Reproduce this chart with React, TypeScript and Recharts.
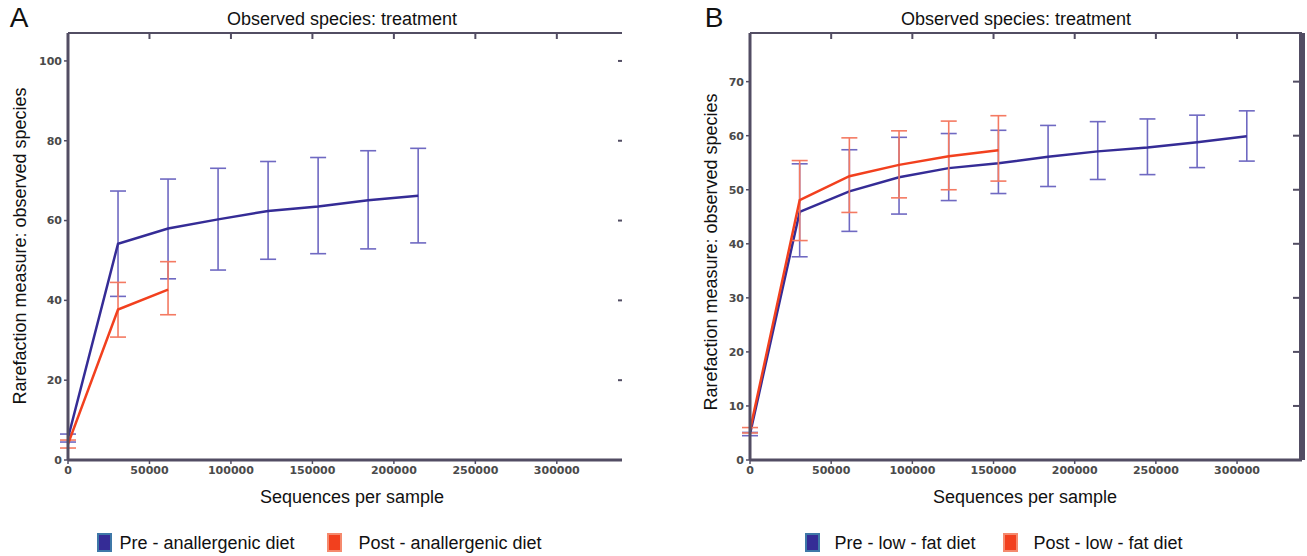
import React from 'react';
import { ComposedChart, Line, XAxis, YAxis, ErrorBar, ReferenceLine } from 'recharts';

const xTicks = [0, 50000, 100000, 150000, 200000, 250000, 300000];
const aYTicks = [0, 20, 40, 60, 80, 100];
const bYTicks = [0, 10, 20, 30, 40, 50, 60, 70];

// panel A: anallergenic diet
const aPreX = [0, 30700, 61400, 92100, 122800, 153500, 184200, 214900];
const aPreY = [5.5, 54.2, 58.0, 60.3, 62.4, 63.5, 65.1, 66.2];
const aPreLow = [4.5, 41.0, 45.4, 47.6, 50.3, 51.7, 52.9, 54.4];
const aPreHigh = [6.5, 67.4, 70.4, 73.1, 74.8, 75.8, 77.5, 78.1];

const aPostX = [0, 30700, 61400];
const aPostY = [4.0, 37.7, 42.7];
const aPostLow = [3.0, 30.8, 36.4];
const aPostHigh = [5.0, 44.5, 49.7];

// panel B: low-fat diet
const bPreX = [0, 30600, 61200, 91800, 122400, 153000, 183600, 214200, 244800, 275400, 306000];
const bPreY = [4.8, 45.9, 49.7, 52.3, 54.0, 54.9, 56.1, 57.1, 57.8, 58.8, 59.9];
const bPreLow = [4.5, 37.6, 42.3, 45.5, 48.0, 49.3, 50.6, 51.9, 52.8, 54.1, 55.3];
const bPreHigh = [5.1, 54.8, 57.4, 59.7, 60.4, 61.0, 61.9, 62.6, 63.1, 63.8, 64.6];

const bPostX = [0, 30600, 61200, 91800, 122400, 153000];
const bPostY = [5.5, 48.1, 52.5, 54.6, 56.2, 57.3];
const bPostLow = [5.0, 40.6, 45.8, 48.5, 50.0, 51.6];
const bPostHigh = [6.0, 55.4, 59.6, 60.9, 62.7, 63.7];

const BLUE = '#352c96';
const BLUE_ERR = '#6f69c2';
const RED = '#f2401e';
const RED_ERR = '#f47a62';
const AXIS = '#524d63';
const X_MAX = 340000;

function build(xs: number[], ys: number[], lo: number[], hi: number[]) {
  return xs.map((x, i) => ({ x, y: ys[i], err: [ys[i] - lo[i], hi[i] - ys[i]] }));
}

const tickStyle = { fontFamily: 'DejaVu Sans', fontSize: 11, fontWeight: 700, fill: '#4a4a4a' };
const textFont = '"Liberation Sans", Arial, sans-serif';
const noLabel = () => <g />;

interface PanelProps {
  left: number;
  width: number;
  marginLeft: number;
  marginRight: number;
  yMax: number;
  yTicks: number[];
  pre: { x: number; y: number; err: number[] }[];
  post: { x: number; y: number; err: number[] }[];
  rightBorder: boolean;
}

function Panel({ left, width, marginLeft, marginRight, yMax, yTicks, pre, post, rightBorder }: PanelProps) {
  return (
    <div style={{ position: 'absolute', left, top: 0 }}>
      <ComposedChart
        width={width}
        height={556}
        margin={{ top: 33, right: marginRight, bottom: 66, left: marginLeft }}
      >
        <XAxis
          xAxisId="b"
          type="number"
          dataKey="x"
          domain={[0, X_MAX]}
          ticks={xTicks}
          allowDataOverflow
          height={30}
          axisLine={{ stroke: AXIS, strokeWidth: 3 }}
          tickLine={{ stroke: AXIS, strokeWidth: 1.5 }}
          tickSize={4}
          tick={tickStyle}
          interval={0}
        />
        <XAxis
          xAxisId="t"
          orientation="top"
          type="number"
          dataKey="x"
          domain={[0, X_MAX]}
          ticks={xTicks}
          allowDataOverflow
          height={1}
          mirror
          tick={noLabel}
          interval={0}
          axisLine={{ stroke: AXIS, strokeWidth: 2 }}
          tickLine={{ stroke: AXIS, strokeWidth: 2 }}
          tickSize={6}
        />
        <YAxis
          yAxisId="l"
          type="number"
          domain={[0, yMax]}
          ticks={yTicks}
          allowDataOverflow
          width={40}
          axisLine={{ stroke: AXIS, strokeWidth: 3 }}
          tickLine={{ stroke: AXIS, strokeWidth: 1.5 }}
          tickSize={4}
          tick={tickStyle}
          interval={0}
        />
        <YAxis
          yAxisId="r"
          orientation="right"
          type="number"
          domain={[0, yMax]}
          ticks={yTicks}
          allowDataOverflow
          width={1}
          mirror
          tick={noLabel}
          interval={0}
          axisLine={rightBorder ? { stroke: AXIS, strokeWidth: 6 } : false}
          tickLine={{ stroke: AXIS, strokeWidth: 2 }}
          tickSize={rightBorder ? 9 : 4}
        />
        <ReferenceLine xAxisId="b" yAxisId="l" y={yMax} stroke={AXIS} strokeWidth={2} />
        {rightBorder && <ReferenceLine xAxisId="b" yAxisId="l" x={X_MAX} stroke={AXIS} strokeWidth={6} />}
        <Line
          xAxisId="b"
          yAxisId="l"
          data={pre}
          dataKey="y"
          type="linear"
          stroke={BLUE}
          strokeWidth={2.5}
          dot={false}
          isAnimationActive={false}
        >
          <ErrorBar dataKey="err" direction="y" width={8} stroke={BLUE_ERR} strokeWidth={1.6} isAnimationActive={false} />
        </Line>
        <Line
          xAxisId="t"
          yAxisId="r"
          data={post}
          dataKey="y"
          type="linear"
          stroke={RED}
          strokeWidth={2.5}
          dot={false}
          isAnimationActive={false}
        >
          <ErrorBar dataKey="err" direction="y" width={8} stroke={RED_ERR} strokeWidth={1.6} isAnimationActive={false} />
        </Line>
      </ComposedChart>
    </div>
  );
}

function Label({ x, y, size, children, rotate }: { x: number; y: number; size: number; children: React.ReactNode; rotate?: boolean }) {
  return (
    <div
      style={{
        position: 'absolute',
        left: x,
        top: y,
        transform: `translate(-50%, -50%)${rotate ? ' rotate(-90deg)' : ''}`,
        whiteSpace: 'nowrap',
        fontFamily: textFont,
        fontSize: size,
        lineHeight: 1,
        color: '#111',
      }}
    >
      {children}
    </div>
  );
}

function Swatch({ x, fill, border }: { x: number; fill: string; border: string }) {
  return (
    <div
      style={{
        position: 'absolute',
        left: x,
        top: 533,
        width: 11,
        height: 15,
        background: fill,
        border: `2px solid ${border}`,
      }}
    />
  );
}

export default function App() {
  const aPre = build(aPreX, aPreY, aPreLow, aPreHigh);
  const aPost = build(aPostX, aPostY, aPostLow, aPostHigh);
  const bPre = build(bPreX, bPreY, bPreLow, bPreHigh);
  const bPost = build(bPostX, bPostY, bPostLow, bPostHigh);

  return (
    <div style={{ position: 'absolute', left: 0, top: 0, width: 1307, height: 556, background: '#fff', overflow: 'hidden' }}>
      <Panel left={0} width={650} marginLeft={28} marginRight={28} yMax={107} yTicks={aYTicks} pre={aPre} post={aPost} rightBorder={false} />
      <Panel left={660} width={647} marginLeft={50} marginRight={5} yMax={79} yTicks={bYTicks} pre={bPre} post={bPost} rightBorder />

      <Label x={19} y={18} size={28}>A</Label>
      <Label x={714} y={18} size={28}>B</Label>

      <Label x={342} y={19} size={18}>Observed species: treatment</Label>
      <Label x={1016} y={19} size={18}>Observed species: treatment</Label>

      <Label x={352} y={497} size={18}>Sequences per sample</Label>
      <Label x={1025} y={497} size={18}>Sequences per sample</Label>

      <Label x={20} y={246} size={18} rotate>Rarefaction measure: observed species</Label>
      <Label x={711} y={252} size={18} rotate>Rarefaction measure: observed species</Label>

      <Swatch x={97} fill={BLUE} border="#3f78a8" />
      <Label x={207} y={543} size={18}>Pre - anallergenic diet</Label>
      <Swatch x={327} fill={RED} border="#f58a6e" />
      <Label x={450} y={543} size={18}>Post - anallergenic diet</Label>

      <Swatch x={805} fill={BLUE} border="#3f78a8" />
      <Label x={905} y={543} size={18}>Pre - low - fat diet</Label>
      <Swatch x={1003} fill={RED} border="#f58a6e" />
      <Label x={1108} y={543} size={18}>Post - low - fat diet</Label>
    </div>
  );
}
